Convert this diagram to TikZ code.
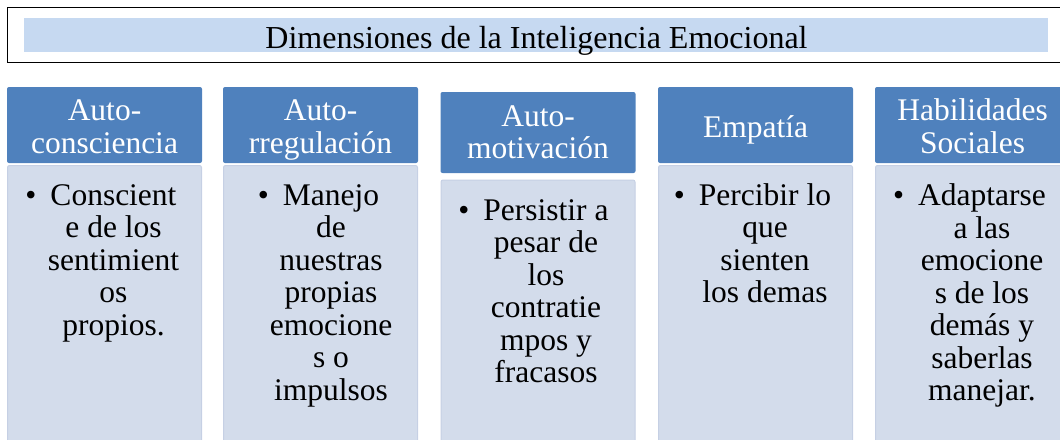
\documentclass[tikz,border=0pt]{standalone}
\usepackage{fontspec}
\setmainfont{Liberation Serif}
\usetikzlibrary{positioning}
\definecolor{cabazul}{RGB}{79,129,189}
\definecolor{cuerpoazul}{RGB}{211,220,235}
\definecolor{cuerpoborde}{RGB}{198,208,228}
\definecolor{franja}{RGB}{198,217,241}
\newcommand{\vineta}{\llap{\textbullet\hspace{14pt}}}
\tikzset{
    cabecera/.style={fill=cabazul, rounded corners=2pt, minimum width=195pt, inner sep=0pt},
    cuerpo/.style={fill=cuerpoazul, draw=cuerpoborde, line width=1pt, rounded corners=2pt, minimum width=194pt, minimum height=300pt, inner sep=0pt, anchor=north},
    titcab/.style={text=white, align=center, anchor=base, inner sep=0pt, font=\fontsize{31.5}{32.5}\selectfont},
    item/.style={text=black, align=center, anchor=base, inner sep=0pt, font=\fontsize{31.5}{32.5}\selectfont}
}

\begin{document}
\begin{tikzpicture}[x=1pt,y=-1pt]
    \useasboundingbox (0,0) rectangle (1060,439);
    \clip (0,0) rectangle (1060,439);
    % titulo
    \draw[line width=1.6pt] (7.5,7.5) rectangle (1075,62.5);
    \fill[franja] (24,18) rectangle (1048,52);
    \node[item, font=\fontsize{32}{33}\selectfont] (titulo) at (536.5,48.5) {Dimensiones de la Inteligencia Emocional};
    % cabeceras (base = ultima linea)
    \node[cabecera, minimum height=76pt] (cab1) at (104.5,125) {};
    \node[cabecera, minimum height=76pt] (cab2) at (320.5,125) {};
    \node[cabecera, minimum height=81pt] (cab3) at (538,132.5) {};
    \node[cabecera, minimum height=76pt] (cab4) at (755.5,125) {};
    \node[cabecera, minimum height=76pt] (cab5) at (972.5,125) {};
    \node[titcab] (tc1) at (104.5,153.2) {Auto-\\consciencia};
    \node[titcab] (tc2) at (320.5,153.2) {Auto-\\rregulación};
    \node[titcab] (tc3) at (538,158.5) {Auto-\\motivación};
    \node[titcab] (tc4) at (755.5,137) {Empatía};
    \node[titcab] (tc5) at (972.5,153) {Habilidades\\Sociales};
    % cuerpos
    \node[cuerpo] (cu1) at (104.5,165) {};
    \node[cuerpo] (cu2) at (320.5,165) {};
    \node[cuerpo] (cu3) at (538,179.5) {};
    \node[cuerpo] (cu4) at (755.5,165) {};
    \node[cuerpo] (cu5) at (972.5,165) {};
    \node[item] (it1) at (113.5,335) {\vineta Conscient\\e de los\\sentimient\\os\\propios.};
    \node[item] (it2) at (331,400) {\vineta Manejo\\de\\nuestras\\propias\\emocione\\s o\\impulsos};
    \node[item] (it3) at (546,382.5) {\vineta Persistir a\\pesar de\\los\\contratie\\mpos y\\fracasos};
    \node[item] (it4) at (765,302.5) {\vineta Percibir lo\\que\\sienten\\los demas};
    \node[item] (it5) at (982,400.5) {\vineta Adaptarse\\a las\\emocione\\s de los\\demás y\\saberlas\\manejar.};
\end{tikzpicture}
\end{document}
